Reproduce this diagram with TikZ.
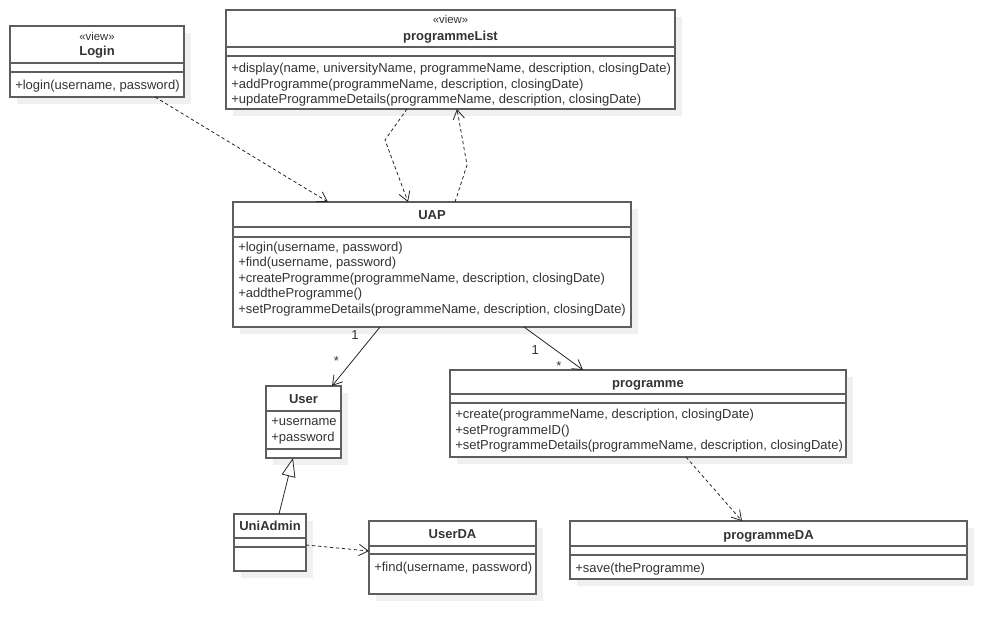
\documentclass[tikz,border=0pt]{standalone}
\usepackage{fontspec}
\setmainfont{Liberation Sans}
\usetikzlibrary{arrows.meta,shadows}

\definecolor{umlline}{HTML}{5E5E5E}
\definecolor{umltext}{HTML}{333333}

\begin{document}
\begin{tikzpicture}[
    x=0.75pt, y=-0.75pt,
    cls/.style={draw=umlline, line width=1.1pt, fill=white, anchor=north west, inner sep=0pt, outer sep=0pt,
        general shadow={fill=black!6, shadow xshift=5.25pt, shadow yshift=-5.25pt}},
    boxsize/.style 2 args={minimum width=#1*0.75pt, minimum height=#2*0.75pt},
    cname/.style={font=\fontsize{9.75}{12}\selectfont\bfseries, text=umltext, inner sep=0pt, anchor=base},
    stereo/.style={font=\fontsize{8.5}{10}\selectfont, text=umltext, inner sep=0pt, anchor=base},
    member/.style={font=\fontsize{9.75}{12}\selectfont, text=umltext, inner sep=0pt, anchor=base west},
    sep/.style={draw=umlline, line width=1.1pt},
    mult/.style={font=\fontsize{9.75}{12}\selectfont, text=umltext, inner sep=0pt},
    dep/.style={draw=black!85, line width=0.6pt, dash pattern=on 2.5pt off 2pt, -{Straight Barb[length=7pt,width=8.5pt]}},
    assoc/.style={draw=black!85, line width=0.6pt, -{Straight Barb[length=7pt,width=8.5pt]}},
    gen/.style={draw=black!85, line width=0.6pt, -{Triangle[open, length=14pt, width=10.5pt, fill=white]}}
]
\useasboundingbox (0,0) rectangle (1006,634);

% class boxes
\node[cls, boxsize={174}{71}] (login) at (10,26) {};
\node[cls, boxsize={449}{99}] (plist) at (226,10) {};
\node[cls, boxsize={398}{125}] (uap) at (233,202) {};
\node[cls, boxsize={75}{72}] (user) at (266,386) {};
\node[cls, boxsize={396}{87}] (prog) at (450,370) {};
\node[cls, boxsize={72}{57}] (uniadmin) at (234,514) {};
\node[cls, boxsize={167}{73}] (userda) at (369,521) {};
\node[cls, boxsize={397}{58}] (progda) at (570,521) {};

% compartments
\foreach \c/\a/\b in {login/37/46, plist/37/46, uap/25/35, user/25/63, prog/24/33, uniadmin/24/33, userda/25/33, progda/25/34} {
    \draw[sep] ([shift={(0,\a)}]\c.north west) -- ([shift={(0,\a)}]\c.north east);
    \draw[sep] ([shift={(0,\b)}]\c.north west) -- ([shift={(0,\b)}]\c.north east);
}

% names
\node[stereo] (loginStereo) at ([shift={(0,15)}]login.north) {«view»};
\node[cname] (loginName) at ([shift={(0,29.5)}]login.north) {Login};
\node[stereo] (plistStereo) at ([shift={(0,14)}]plist.north) {«view»};
\node[cname] (plistName) at ([shift={(0,30.5)}]plist.north) {programmeList};
\node[cname] (uapName) at ([shift={(0,17.5)}]uap.north) {UAP};
\node[cname] (userName) at ([shift={(0,17.5)}]user.north) {User};
\node[cname] (progName) at ([shift={(0,17.5)}]prog.north) {programme};
\node[cname] (uniadminName) at ([shift={(0,16.5)}]uniadmin.north) {UniAdmin};
\node[cname] (userdaName) at ([shift={(0,17.5)}]userda.north) {UserDA};
\node[cname] (progdaName) at ([shift={(0,18.5)}]progda.north) {programmeDA};

% members
\node[member] (loginOp1) at ([shift={(5,63.5)}]login.north west) {+login(username, password)};
\foreach \t [count=\i] in {
    {+display(name, universityName, programmeName, description, closingDate)},
    {+addProgramme(programmeName, description, closingDate)},
    {+updateProgrammeDetails(programmeName, description, closingDate)}}
    \node[member] (plistOp\i) at ([shift={(5,{62.5+15.6*(\i-1)})}]plist.north west) {\t};
\foreach \t [count=\i] in {
    {+login(username, password)},
    {+find(username, password)},
    {+createProgramme(programmeName, description, closingDate)},
    {+addtheProgramme()},
    {+setProgrammeDetails(programmeName, description, closingDate)}}
    \node[member] (uapOp\i) at ([shift={(5,{49.5+15.5*(\i-1)})}]uap.north west) {\t};
\node[member] (userAttr1) at ([shift={(5,39.5)}]user.north west) {+username};
\node[member] (userAttr2) at ([shift={(5,55.5)}]user.north west) {+password};
\foreach \t [count=\i] in {
    {+create(programmeName, description, closingDate)},
    {+setProgrammeID()},
    {+setProgrammeDetails(programmeName, description, closingDate)}}
    \node[member] (progOp\i) at ([shift={(5,{48.5+15.5*(\i-1)})}]prog.north west) {\t};
\node[member] (userdaOp1) at ([shift={(5,50.5)}]userda.north west) {+find(username, password)};
\node[member] (progdaOp1) at ([shift={(5,51.5)}]progda.north west) {+save(theProgramme)};

% relations
\draw[dep] ([shift={(58,0)}]login.south) -- ([shift={(-104,0)}]uap.north);
\draw[dep] ([shift={(-43.5,0)}]plist.south) -- ([shift={(-65.5,31)}]plist.south) -- ([shift={(-24,0)}]uap.north);
\draw[dep] ([shift={(23,0)}]uap.north) -- ([shift={(35,-37)}]uap.north) -- ([shift={(6.5,0)}]plist.south);
\draw[assoc] ([shift={(-52,0)}]uap.south)
    -- node[mult, pos=0.29, shift={(-11,-9)}] (uapUserOne) {1}
       node[mult, pos=0.68, shift={(-11,-6)}] (uapUserMany) {*}
    ([shift={(28.5,0)}]user.north);
\draw[assoc] ([shift={(92,0)}]uap.south)
    -- node[mult, pos=0.307, shift={(-7,10)}] (uapProgOne) {1}
       node[mult, pos=0.686, shift={(-5.5,10)}] (uapProgMany) {*}
    ([shift={(-65,0)}]prog.north);
\draw[gen] ([shift={(9,0)}]uniadmin.north) -- ([shift={(-10.5,0)}]user.south);
\draw[dep] ([shift={(0,2.5)}]uniadmin.east) -- ([shift={(0,-6.5)}]userda.west);
\draw[dep] ([shift={(38,0)}]prog.south) -- ([shift={(-26.5,0)}]progda.north);
\end{tikzpicture}
\end{document}
